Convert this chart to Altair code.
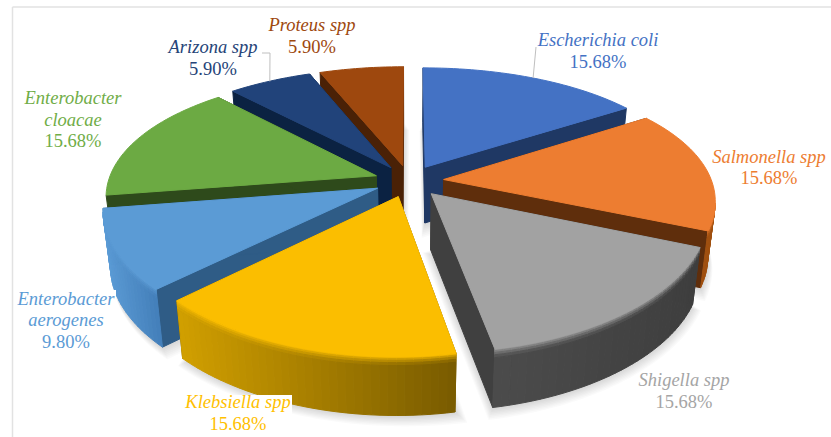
import math
import altair as alt

# Pie shares, clockwise from twelve o'clock
names = ["Escherichia coli", "Salmonella spp", "Shigella spp", "Klebsiella spp",
         "Enterobacter aerogenes", "Enterobacter cloacae", "Arizona spp", "Proteus spp"]
shares = [15.68, 15.68, 15.68, 15.68, 9.80, 15.68, 5.90, 5.90]

top_colors = ["#4472C4", "#ED7D31", "#A2A2A2", "#FBBE00", "#5B9BD5", "#6CAA43", "#21437A", "#9E480E"]
side_colors = ["#1F3864", "#5F2E0C", "#404040", "#7F6000", "#2F5C86", "#2E4A1B", "#0B2242", "#4A2106"]
# Rim wall shades, screen left to right
rim_left = ["#203864", "#A5551B", "#4C4C4C", "#D2A000", "#5B9BD5", "#33521E", "#0B2242", "#4A2106"]
rim_right = ["#203864", "#A0500F", "#3E3E3E", "#7A5C00", "#4480BB", "#33521E", "#0B2242", "#4A2106"]
label_colors = ["#4472C4", "#ED7D31", "#A5A5A5", "#FFC000", "#5B9BD5", "#70AD47", "#264478", "#9E480E"]

# Tilted-disc camera
CX, CY = 409.0, 181.0
RX, RY = 268.0, 123.0
PERSP_X, PERSP_Y = 0.155, 0.19
EXPLODE = 0.13
CONVERGE = 0.975


def plan(theta, radius, mid):
    """Ground-plane point of a slice pulled out along its bisector."""
    return (radius * math.sin(theta) + EXPLODE * math.sin(mid),
            radius * math.cos(theta) + EXPLODE * math.cos(mid))


def project(px, py):
    s = 1.0 / (1.0 + PERSP_Y * py)
    return (CX + RX * px / (1.0 + PERSP_X * py), CY - RY * py * s, s)


def drop(p, frac=1.0):
    """Point part way down the wall beneath a projected top-face point."""
    x, y, s = p
    k = 1.0 - (1.0 - CONVERGE) * frac
    return (CX + (x - CX) * k, y + (46.0 + 10.0 * s) * frac, s)


def hex_mix(a, b, t):
    ca = [int(a[i:i + 2], 16) for i in (1, 3, 5)]
    cb = [int(b[i:i + 2], 16) for i in (1, 3, 5)]
    return "#%02x%02x%02x" % tuple(round(u + (v - u) * t) for u, v in zip(ca, cb))


def feature(points, color):
    ring = [[round(p[0], 2), round(p[1], 2)] for p in points]
    ring.append(ring[0])
    return {"type": "Feature", "properties": {"color": color},
            "geometry": {"type": "Polygon", "coordinates": [ring]}}


# Slice angles derived from the shares
total = sum(shares)
slices = []
running = 0.0
for i, share in enumerate(shares):
    start = running / total * 2 * math.pi
    running += share
    end = running / total * 2 * math.pi
    slices.append((i, start, end, (start + end) / 2))

faces = []
shadows = []
BEVEL = [0.0, 0.03, 0.06, 0.10, 0.15, 1.0]

# Painter's order: farthest slice first
for i, start, end, mid in sorted(slices, key=lambda t: -math.cos(t[3])):
    steps = max(8, int((end - start) / math.radians(1.5)))
    angles = [start + (end - start) * k / steps for k in range(steps + 1)]
    rim = [project(*plan(a, 1.0, mid)) for a in angles]
    apex = project(*plan(0.0, 0.0, mid))

    floor = [drop(apex)] + [drop(p) for p in rim]
    fx = sum(p[0] for p in floor) / len(floor)
    fy = sum(p[1] for p in floor) / len(floor)
    for k in range(1, 9):
        grow = 1 + 0.008 * k
        shadows.append(feature([(fx + (p[0] - fx) * grow + 0.4 * k,
                                 fy + (p[1] - fy) * grow + 1.2 * k) for p in floor], "#000000"))

    # Straight cut faces
    for a in (start, end):
        p = project(*plan(a, 1.0, mid))
        faces.append(feature([apex, p, drop(p), drop(apex)], side_colors[i]))

    # Curved outer wall, only where it turns towards the viewer
    xs = [p[0] for p in rim]
    lo, hi = min(xs), max(xs)
    for k in range(steps):
        a, b = rim[k], rim[k + 1]
        if b[0] >= a[0]:
            continue
        t = (a[0] - lo) / (hi - lo) if hi > lo else 0.0
        wall = hex_mix(rim_left[i], rim_right[i], t)
        for j in range(len(BEVEL) - 1):
            f0, f1 = BEVEL[j], BEVEL[j + 1]
            shade = wall if j == len(BEVEL) - 2 else hex_mix(top_colors[i], wall, (j + 0.5) / (len(BEVEL) - 2))
            faces.append(feature([drop(a, f0), drop(b, f0), drop(b, f1), drop(a, f1)], shade))

    faces.append(feature([apex] + rim, top_colors[i]))

px_x = alt.Scale(domain=[0, 831], range=[0, 831])
px_y = alt.Scale(domain=[0, 437], range=[0, 437])


def rim_point(index):
    _, _, _, mid = slices[index]
    x, y, _ = project(*plan(mid, 1.0, mid))
    return [round(x, 1), round(y, 1)]


def leader(points):
    return {"type": "Feature", "properties": {},
            "geometry": {"type": "LineString", "coordinates": points}}


# Label layout: (slice, centre x, line centres)
label_rows = []
layout = [
    (0, 598, [("Escherichia coli", 40), ("15.68%", 62)]),
    (1, 769, [("Salmonella spp", 157), ("15.68%", 178)]),
    (2, 684, [("Shigella spp", 380), ("15.68%", 402)]),
    (3, 238, [("Klebsiella spp", 402), ("15.68%", 424)]),
    (4, 66, [("Enterobacter", 299), ("aerogenes", 320), ("9.80%", 342)]),
    (5, 73, [("Enterobacter", 98), ("cloacae", 120), ("15.68%", 141)]),
    (6, 213, [("Arizona spp", 47), ("5.90%", 69)]),
    (7, 312, [("Proteus spp", 25), ("5.90%", 47)]),
]
for idx, cx, lines in layout:
    for text, y in lines:
        label_rows.append({"text": text, "x": cx, "y": y, "color": label_colors[idx],
                           "style": "normal" if text.endswith("%") else "italic"})

frame = alt.Data(values=[
    {"x": 12.5, "x2": 12.5, "y": 7, "y2": 437},
    {"x": 12.5, "x2": 831, "y": 7, "y2": 7},
])
frame_layer = alt.Chart(frame).mark_rule(color="#e2e2e2", strokeWidth=1.5).encode(
    x=alt.X("x:Q", scale=px_x, axis=None), x2="x2:Q",
    y=alt.Y("y:Q", scale=px_y, axis=None), y2="y2:Q")

shadow_layer = alt.Chart(alt.Data(values=shadows)).mark_geoshape(
    fill="#000000", fillOpacity=0.02, strokeWidth=0
).project(type="identity", scale=1, translate=[0, 0])

face_layer = alt.Chart(alt.Data(values=faces)).mark_geoshape(strokeWidth=1).encode(
    fill=alt.Fill("properties.color:N", scale=None),
    stroke=alt.Stroke("properties.color:N", scale=None),
).project(type="identity", scale=1, translate=[0, 0])

leader_layer = alt.Chart(alt.Data(values=[
    leader([[262, 53], [270, 53], rim_point(6)]),
    leader([[536, 47], rim_point(0)]),
])).mark_geoshape(filled=False, stroke="#bfbfbf", strokeWidth=1).project(
    type="identity", scale=1, translate=[0, 0])

# White plates behind the two labels that sit over the pie
plates = alt.Data(values=[
    {"x": 18, "x2": 116, "y": 290, "y2": 328},
    {"x": 183, "x2": 292, "y": 395, "y2": 414},
])
plate_layer = alt.Chart(plates).mark_rect(color="#ffffff").encode(
    x=alt.X("x:Q", scale=px_x, axis=None), x2="x2:Q",
    y=alt.Y("y:Q", scale=px_y, axis=None), y2="y2:Q")


def text_layer(style):
    rows = [r for r in label_rows if r["style"] == style]
    return alt.Chart(alt.Data(values=rows)).mark_text(
        font="Liberation Serif", fontSize=18.5, fontStyle=style, align="center", baseline="middle"
    ).encode(
        x=alt.X("x:Q", scale=px_x, axis=None),
        y=alt.Y("y:Q", scale=px_y, axis=None),
        text="text:N",
        color=alt.Color("color:N", scale=None),
    )


chart = alt.layer(
    frame_layer, shadow_layer, face_layer, leader_layer, plate_layer,
    text_layer("italic"), text_layer("normal"),
).properties(width=831, height=437, padding=0, background="#ffffff",
             autosize=alt.AutoSizeParams(type="none")).configure_view(stroke=None)

chart.save("out.html", embed_options={"renderer": "svg", "actions": False})
